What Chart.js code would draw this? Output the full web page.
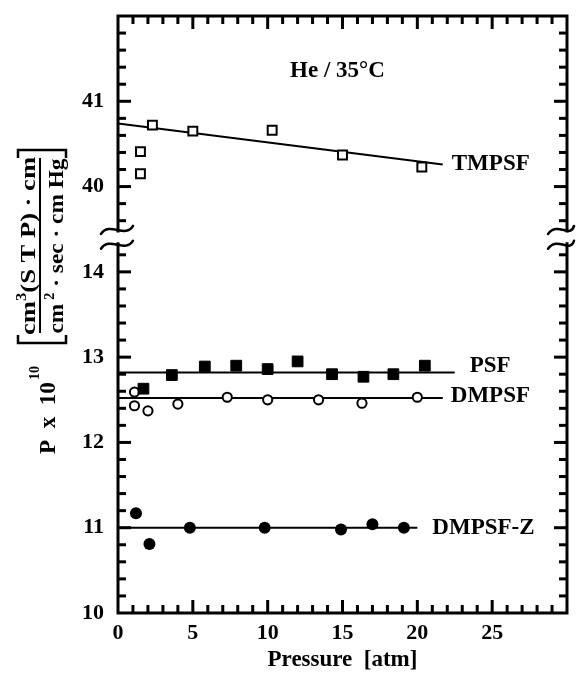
<!DOCTYPE html>
<html>
<head>
<meta charset="utf-8">
<script src="https://cdn.jsdelivr.net/npm/chart.js@4.4.1/dist/chart.umd.min.js"></script>
<style>
html,body{margin:0;padding:0;background:#fff;}
#wrap{width:580px;height:674px;position:relative;}
</style>
</head>
<body>
<div id="wrap"><canvas id="c" width="580" height="674"></canvas></div>
<script>
// ---------------- DATA ----------------
// Pressure [atm] and permeability P x 10^10
const tmpsfPressure = [1.5, 1.5, 2.3, 5.0, 10.3, 15.0, 20.3];
const tmpsfPerm     = [40.41, 40.15, 40.72, 40.65, 40.66, 40.37, 40.23];
const tmpsfFitPressure = [0, 21.7];
const tmpsfFitPerm     = [40.74, 40.26];

const psfPressure = [1.7, 3.6, 5.8, 7.9, 10.0, 12.0, 14.3, 16.4, 18.4, 20.5];
const psfPerm     = [12.63, 12.79, 12.89, 12.90, 12.86, 12.95, 12.80, 12.77, 12.80, 12.90];
const psfFitPressure = [0, 22.5];
const psfFitPerm     = [12.82, 12.82];

const dmpsfPressure = [1.1, 1.1, 2.0, 4.0, 7.3, 10.0, 13.4, 16.3, 20.0];
const dmpsfPerm     = [12.59, 12.43, 12.37, 12.45, 12.53, 12.50, 12.50, 12.46, 12.53];
const dmpsfFitPressure = [0, 21.7];
const dmpsfFitPerm     = [12.52, 12.52];

const dmpsfzPressure = [1.2, 2.1, 4.8, 9.8, 14.9, 17.0, 19.1];
const dmpsfzPerm     = [11.17, 10.81, 11.00, 11.00, 10.98, 11.04, 11.00];
const dmpsfzFitPressure = [0, 20.0];
const dmpsfzFitPerm     = [11.00, 11.00];

const seriesNames = ['TMPSF', 'PSF', 'DMPSF', 'DMPSF-Z'];
const xTickLabels = [0, 5, 10, 15, 20, 25];
const yTicksLower = [10, 11, 12, 13, 14];
const yTicksUpper = [40, 41];
const conditionText = 'He / 35°C';

// ---------------- axis break (upper block 39.4..42 is drawn right above 10..14.4) ----------------
const BREAK_SHIFT = 25;          // 40 is drawn where 15 would be
const BREAK_AT = 14.4;           // axis value where the break sits
function toAxis(v) { return v >= 30 ? v - BREAK_SHIFT : v; }
function fromAxis(a) { return a > BREAK_AT ? a + BREAK_SHIFT : a; }

const FONT = '"Liberation Serif", "Times New Roman", Times, serif';

function pts(xs, ys) { return xs.map((x, i) => ({x: x, y: toAxis(ys[i])})); }

function pointSet(xs, ys, style, r, fill, bw) {
  return {type: 'scatter', data: pts(xs, ys), showLine: false, pointStyle: style,
    pointRadius: r, pointHoverRadius: r, pointBackgroundColor: fill,
    pointBorderColor: '#000', pointBorderWidth: bw, order: 1};
}
function fitSet(xs, ys) {
  return {type: 'scatter', data: pts(xs, ys), showLine: true, pointRadius: 0,
    borderColor: '#000', borderWidth: 2, fill: false, order: 2};
}

const labelLayout = {
  'TMPSF':   {xs: tmpsfFitPressure, ys: tmpsfFitPerm, dx: 9,  dy: 0},
  'PSF':     {xs: psfFitPressure,   ys: psfFitPerm,   dx: 15, dy: -6},
  'DMPSF':   {xs: dmpsfFitPressure, ys: dmpsfFitPerm, dx: 8,  dy: -2},
  'DMPSF-Z': {xs: dmpsfzFitPressure, ys: dmpsfzFitPerm, dx: 15, dy: 0}
};

function drawRotatedRich(ctx, parts, baseX, centerY, targetLen) {
  ctx.save();
  ctx.translate(baseX, centerY);
  ctx.rotate(-Math.PI / 2);
  let total = 0;
  const widths = parts.map(p => {
    ctx.font = 'bold ' + p.size + 'px ' + FONT;
    const w = ctx.measureText(p.t).width; total += w; return w;
  });
  const sx = targetLen ? targetLen / total : 1;
  ctx.scale(sx, 1);
  let u = -total / 2;
  ctx.textAlign = 'left'; ctx.textBaseline = 'alphabetic'; ctx.fillStyle = '#000';
  parts.forEach((p, i) => {
    ctx.font = 'bold ' + p.size + 'px ' + FONT;
    ctx.fillText(p.t, u, -(p.raise || 0));
    u += widths[i];
  });
  ctx.restore();
}

const framePlugin = {
  id: 'frame',
  afterDraw(chart) {
    const c = chart.ctx;
    const area = chart.chartArea;
    const left = area.left, right = area.right, top = area.top, bottom = area.bottom;
    const xs = chart.scales.x, ys = chart.scales.y;
    c.save();
    c.setLineDash([]);
    c.globalAlpha = 1;
    c.strokeStyle = '#000'; c.fillStyle = '#000';
    const gapTop = ys.getPixelForValue(BREAK_AT + 0.08);
    const gapBot = ys.getPixelForValue(BREAK_AT - 0.07);
    // ticks (inward) drawn as small filled bars
    const TW = 3;
    for (let i = 1; i < 35; i++) {
      const a = 10 + i * 0.2;
      if (Math.abs(a - BREAK_AT) < 0.1) continue;
      const py = ys.getPixelForValue(a);
      const len = (i % 5 === 0) ? 13 : 8;
      c.fillRect(left, py - TW / 2, len, TW);
      c.fillRect(right - len, py - TW / 2, len, TW);
    }
    for (let i = 1; i < 30; i++) {
      const px = xs.getPixelForValue(i);
      const len = (i % 5 === 0) ? 13 : 8;
      c.fillRect(px - TW / 2, bottom - len, TW, len);
      c.fillRect(px - TW / 2, top, TW, len);
    }
    // frame
    c.lineWidth = 3; c.lineCap = 'square';
    c.beginPath();
    c.moveTo(left, top); c.lineTo(right, top);
    c.moveTo(left, bottom); c.lineTo(right, bottom);
    c.moveTo(left, top); c.lineTo(left, gapTop);
    c.moveTo(left, gapBot); c.lineTo(left, bottom);
    c.moveTo(right, top); c.lineTo(right, gapTop);
    c.moveTo(right, gapBot); c.lineTo(right, bottom);
    c.stroke();
    // break marks
    c.lineWidth = 2.5; c.lineCap = 'round';
    const tilde = (ax, yy, l, r) => {
      c.beginPath();
      c.moveTo(ax - l, yy + 4);
      c.bezierCurveTo(ax - l / 2, yy - 9, ax + r / 2, yy + 9, ax + r, yy - 4);
      c.stroke();
    };
    [gapTop - 1, gapBot + 1].forEach(yy => { tilde(left, yy, 17, 15); tilde(right, yy, 19, 7); });

    // series labels
    c.font = 'bold 23px ' + FONT;
    c.textAlign = 'left'; c.textBaseline = 'middle';
    seriesNames.forEach(nm => {
      const L = labelLayout[nm];
      const k = L.xs.length - 1;
      c.fillText(nm, xs.getPixelForValue(L.xs[k]) + L.dx, ys.getPixelForValue(toAxis(L.ys[k])) + L.dy);
    });
    c.fillText(conditionText, xs.getPixelForValue(11.5), ys.getPixelForValue(toAxis(41.35)));

    // y-axis title: P x 10^10 [ cm3(STP)·cm / cm2·sec·cm Hg ]
    drawRotatedRich(c, [
      {t: 'P  x  10', size: 23},
      {t: ' ', size: 8},
      {t: '10', size: 14, raise: 16}
    ], 55, 410, 88);
    c.lineWidth = 2.5; c.lineCap = 'butt';
    c.beginPath();
    c.moveTo(18, 335); c.lineTo(18, 343); c.lineTo(66, 343); c.lineTo(66, 335);
    c.moveTo(18, 158); c.lineTo(18, 150); c.lineTo(66, 150); c.lineTo(66, 158);
    c.stroke();
    c.lineWidth = 2;
    c.beginPath(); c.moveTo(40, 333); c.lineTo(40, 158); c.stroke();
    drawRotatedRich(c, [
      {t: 'cm', size: 22}, {t: '3', size: 14, raise: 9},
      {t: '(S T P)', size: 22}, {t: ' · ', size: 22}, {t: 'cm', size: 22}
    ], 35, 246, 178);
    drawRotatedRich(c, [
      {t: 'cm', size: 22}, {t: ' 2', size: 14, raise: 9},
      {t: ' · sec · cm Hg', size: 22}
    ], 63, 246, 175);
    c.restore();
  }
};

const canvasCtx = document.getElementById('c').getContext('2d');
new Chart(canvasCtx, {
  type: 'scatter',
  data: {
    datasets: [
      pointSet(tmpsfPressure, tmpsfPerm, 'rect', 6.3, '#fff', 2),
      pointSet(psfPressure, psfPerm, 'rect', 7.6, '#000', 1),
      pointSet(dmpsfPressure, dmpsfPerm, 'circle', 4.6, '#fff', 2),
      pointSet(dmpsfzPressure, dmpsfzPerm, 'circle', 6, '#000', 0),
      fitSet(tmpsfFitPressure, tmpsfFitPerm),
      fitSet(psfFitPressure, psfFitPerm),
      fitSet(dmpsfFitPressure, dmpsfFitPerm),
      fitSet(dmpsfzFitPressure, dmpsfzFitPerm)
    ]
  },
  options: {
    responsive: false,
    animation: false,
    devicePixelRatio: 1,
    layout: {padding: {top: 16, right: 13, left: 0, bottom: 0}},
    plugins: {legend: {display: false}, tooltip: {enabled: false}},
    scales: {
      x: {
        type: 'linear', position: 'bottom', min: 0, max: 30,
        afterFit(s) { s.height = 61; s.paddingLeft = 0; s.paddingRight = 0; },
        grid: {display: false, drawTicks: false}, border: {display: false},
        ticks: {
          stepSize: 5, autoSkip: false, maxRotation: 0, padding: 7, color: '#000',
          font: {family: FONT, size: 22, weight: 'bold'},
          callback: v => xTickLabels.includes(v) ? String(v) : ''
        },
        title: {display: true, text: 'Pressure  [atm]', color: '#000',
          font: {family: FONT, size: 23, weight: 'bold'}, padding: {top: 0, bottom: 0}}
      },
      y: {
        type: 'linear', min: 10, max: 17,
        afterFit(s) { s.width = 118; s.paddingTop = 0; s.paddingBottom = 0; },
        grid: {display: false, drawTicks: false}, border: {display: false},
        ticks: {
          stepSize: 1, autoSkip: false, padding: 14, color: '#000',
          font: {family: FONT, size: 22, weight: 'bold'},
          callback: a => {
            const v = Math.round(fromAxis(a) * 1000) / 1000;
            return (yTicksLower.includes(v) || yTicksUpper.includes(v)) ? String(v) : '';
          }
        }
      }
    }
  },
  plugins: [framePlugin]
});
</script>
</body>
</html>
